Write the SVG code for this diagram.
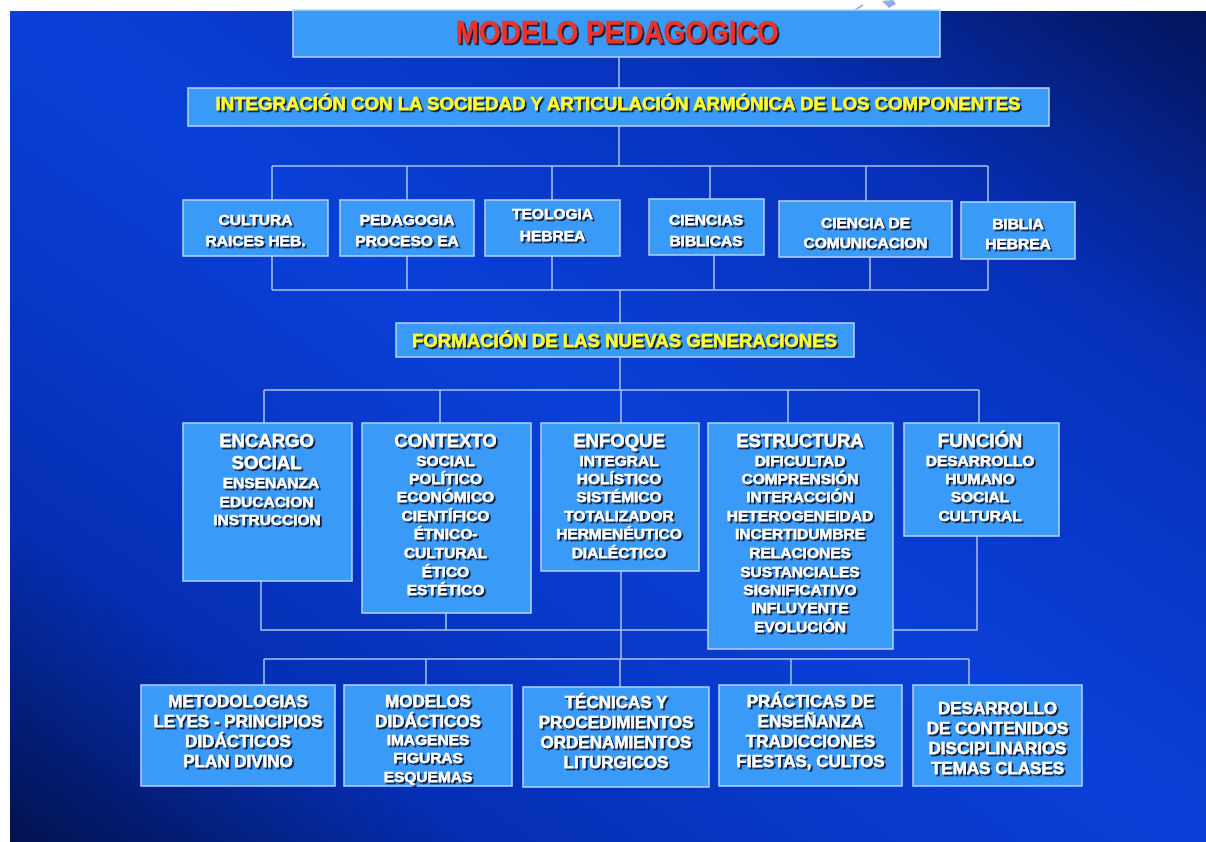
<svg xmlns="http://www.w3.org/2000/svg" width="1206" height="842" viewBox="0 0 1206 842">
<defs>
<linearGradient id="bg" x1="0" y1="1" x2="1" y2="0">
<stop offset="0" stop-color="#02124f"/>
<stop offset="0.2" stop-color="#052fb4"/>
<stop offset="0.5" stop-color="#0a40d8"/>
<stop offset="0.78" stop-color="#0630b8"/>
<stop offset="1" stop-color="#03145a"/>
</linearGradient>
<filter id="sh" x="-10%" y="-30%" width="120%" height="160%">
<feDropShadow dx="1.8" dy="1.8" stdDeviation="0.5" flood-color="#101028" flood-opacity="0.95"/>
</filter>
<style>
.box{fill:#3a9af7;stroke:#b4d4ff;stroke-width:1.5}
.conn{stroke:#a9c3f2;stroke-width:1.5;fill:none}
.t{font-family:'Liberation Sans',Arial,sans-serif;font-weight:bold;fill:#ffffff;stroke:#ffffff;stroke-width:0.35;text-anchor:middle;filter:url(#sh)}
.y{fill:#ffff33;stroke:#ffff33}
.r{fill:#e8342a;stroke:#e8342a}
.s2{font-size:15.5px}
.h{font-size:18.5px}
.s3{font-size:15.5px}
.s4{font-size:17px}
</style>
</defs>
<rect x="0" y="0" width="1206" height="842" fill="#ffffff"/>
<rect x="10" y="11" width="1196" height="831" fill="url(#bg)"/>
<line x1="855" y1="10" x2="863" y2="5" stroke="#93abe6" stroke-width="1.5"/>
<polygon points="882,1 893,0 896,4 889,8" fill="#93abe6"/>

<g id="connectors" class="conn">
<path d="M619 57V88M619 126V166M272 166H988M272 166V200M407 166V200M552 166V200M710 166V199M866 166V201M988 166V202"/>
<path d="M272 256V290M407 256V290M552 256V290M714 255V290M870 257V290M988 259V290M272 290H988M620 290V323"/>
<path d="M620 357V390M264 390H979M264 390V423M440 390V423M621 390V423M788 390V423M979 390V423"/>
<path d="M261 581V630H977V536M446 613V630M621 571V659"/>
<path d="M264 659H969M264 659V685M426 659V685M620 659V687M791 659V685M969 659V685"/>
</g>

<g id="n-title"><rect class="box" x="293" y="10" width="647" height="47"/>
<text class="t r" x="617" y="43" font-size="31" textLength="323" lengthAdjust="spacingAndGlyphs">MODELO PEDAGOGICO</text></g>

<g id="n-integracion"><rect class="box" x="188" y="88" width="861" height="38"/>
<text class="t y" x="618" y="110" font-size="18" textLength="805" lengthAdjust="spacingAndGlyphs">INTEGRACIÓN CON LA SOCIEDAD Y ARTICULACIÓN ARMÓNICA DE LOS COMPONENTES</text></g>

<g id="n-cultura"><rect class="box" x="183" y="200" width="145" height="56"/>
<text class="t s2" x="255.5" y="225">CULTURA</text><text class="t s2" x="255.5" y="246">RAICES HEB.</text></g>
<g id="n-pedagogia"><rect class="box" x="340" y="200" width="134" height="56"/>
<text class="t s2" x="407" y="225">PEDAGOGIA</text><text class="t s2" x="407" y="246">PROCESO EA</text></g>
<g id="n-teologia"><rect class="box" x="485" y="200" width="135" height="56"/>
<text class="t s2" x="552.5" y="219">TEOLOGIA</text><text class="t s2" x="552.5" y="241">HEBREA</text></g>
<g id="n-ciencias"><rect class="box" x="649" y="199" width="115" height="56"/>
<text class="t s2" x="706" y="225">CIENCIAS</text><text class="t s2" x="706" y="246">BIBLICAS</text></g>
<g id="n-comunicacion"><rect class="box" x="779" y="201" width="173" height="56"/>
<text class="t s2" x="865.5" y="228">CIENCIA DE</text><text class="t s2" x="865.5" y="248">COMUNICACION</text></g>
<g id="n-biblia"><rect class="box" x="961" y="202" width="114" height="57"/>
<text class="t s2" x="1018" y="229">BIBLIA</text><text class="t s2" x="1018" y="249">HEBREA</text></g>

<g id="n-formacion"><rect class="box" x="396" y="323" width="458" height="34"/>
<text class="t y" x="624.5" y="347" font-size="18" textLength="425" lengthAdjust="spacingAndGlyphs">FORMACIÓN DE LAS NUEVAS GENERACIONES</text></g>

<g id="n-encargo"><rect class="box" x="183" y="423" width="169" height="158"/>
<text class="t h" x="266.5" y="447">ENCARGO</text><text class="t h" x="266.5" y="469">SOCIAL</text>
<text class="t s3" x="271" y="488">ENSENANZA</text><text class="t s3" x="266.5" y="507">EDUCACION</text><text class="t s3" x="267" y="525">INSTRUCCION</text></g>

<g id="n-contexto"><rect class="box" x="362" y="423" width="169" height="190"/>
<text class="t h" x="445.5" y="447">CONTEXTO</text>
<text class="t s3" x="445.5" y="466">SOCIAL</text><text class="t s3" x="445.5" y="484">POLÍTICO</text><text class="t s3" x="445.5" y="502">ECONÓMICO</text><text class="t s3" x="445.5" y="521">CIENTÍFICO</text><text class="t s3" x="445.5" y="539">ÉTNICO-</text><text class="t s3" x="445.5" y="558">CULTURAL</text><text class="t s3" x="445.5" y="577">ÉTICO</text><text class="t s3" x="445.5" y="595">ESTÉTICO</text></g>

<g id="n-enfoque"><rect class="box" x="541" y="423" width="158" height="148"/>
<text class="t h" x="619" y="447">ENFOQUE</text>
<text class="t s3" x="619" y="466">INTEGRAL</text><text class="t s3" x="619" y="484">HOLÍSTICO</text><text class="t s3" x="619" y="502">SISTÉMICO</text><text class="t s3" x="619" y="521">TOTALIZADOR</text><text class="t s3" x="619" y="539">HERMENÉUTICO</text><text class="t s3" x="619" y="558">DIALÉCTICO</text></g>

<g id="n-estructura"><rect class="box" x="708" y="423" width="185" height="226"/>
<text class="t h" x="800" y="447">ESTRUCTURA</text>
<text class="t s3" x="800" y="466">DIFICULTAD</text><text class="t s3" x="800" y="484">COMPRENSIÓN</text><text class="t s3" x="800" y="502">INTERACCIÓN</text><text class="t s3" x="800" y="521">HETEROGENEIDAD</text><text class="t s3" x="800" y="539">INCERTIDUMBRE</text><text class="t s3" x="800" y="558">RELACIONES</text><text class="t s3" x="800" y="577">SUSTANCIALES</text><text class="t s3" x="800" y="595">SIGNIFICATIVO</text><text class="t s3" x="800" y="613">INFLUYENTE</text><text class="t s3" x="800" y="632">EVOLUCIÓN</text></g>

<g id="n-funcion"><rect class="box" x="904" y="423" width="155" height="113"/>
<text class="t h" x="980" y="447">FUNCIÓN</text>
<text class="t s3" x="980" y="466">DESARROLLO</text><text class="t s3" x="980" y="484">HUMANO</text><text class="t s3" x="980" y="502">SOCIAL</text><text class="t s3" x="980" y="521">CULTURAL</text></g>

<g id="n-metodologias"><rect class="box" x="141" y="685" width="194" height="101"/>
<text class="t s4" x="238" y="707">METODOLOGIAS</text><text class="t s4" x="238" y="727">LEYES - PRINCIPIOS</text><text class="t s4" x="238" y="747">DIDÁCTICOS</text><text class="t s4" x="238" y="767">PLAN DIVINO</text></g>

<g id="n-modelos"><rect class="box" x="344" y="685" width="168" height="101"/>
<text class="t s4" x="428" y="707">MODELOS</text><text class="t s4" x="428" y="727">DIDÁCTICOS</text><text class="t s3" x="428" y="745">IMAGENES</text><text class="t s3" x="428" y="763">FIGURAS</text><text class="t s3" x="428" y="782">ESQUEMAS</text></g>

<g id="n-tecnicas"><rect class="box" x="523" y="687" width="186" height="100"/>
<text class="t s4" x="616" y="708">TÉCNICAS Y</text><text class="t s4" x="616" y="728">PROCEDIMIENTOS</text><text class="t s4" x="616" y="748">ORDENAMIENTOS</text><text class="t s4" x="616" y="768">LITURGICOS</text></g>

<g id="n-practicas"><rect class="box" x="719" y="685" width="183" height="101"/>
<text class="t s4" x="810.5" y="707">PRÁCTICAS DE</text><text class="t s4" x="810.5" y="727">ENSEÑANZA</text><text class="t s4" x="810.5" y="747">TRADICCIONES</text><text class="t s4" x="810.5" y="767">FIESTAS, CULTOS</text></g>

<g id="n-desarrollo"><rect class="box" x="913" y="685" width="169" height="101"/>
<text class="t s4" x="997.5" y="714">DESARROLLO</text><text class="t s4" x="997.5" y="734">DE CONTENIDOS</text><text class="t s4" x="997.5" y="754">DISCIPLINARIOS</text><text class="t s4" x="997.5" y="774">TEMAS CLASES</text></g>
</svg>
